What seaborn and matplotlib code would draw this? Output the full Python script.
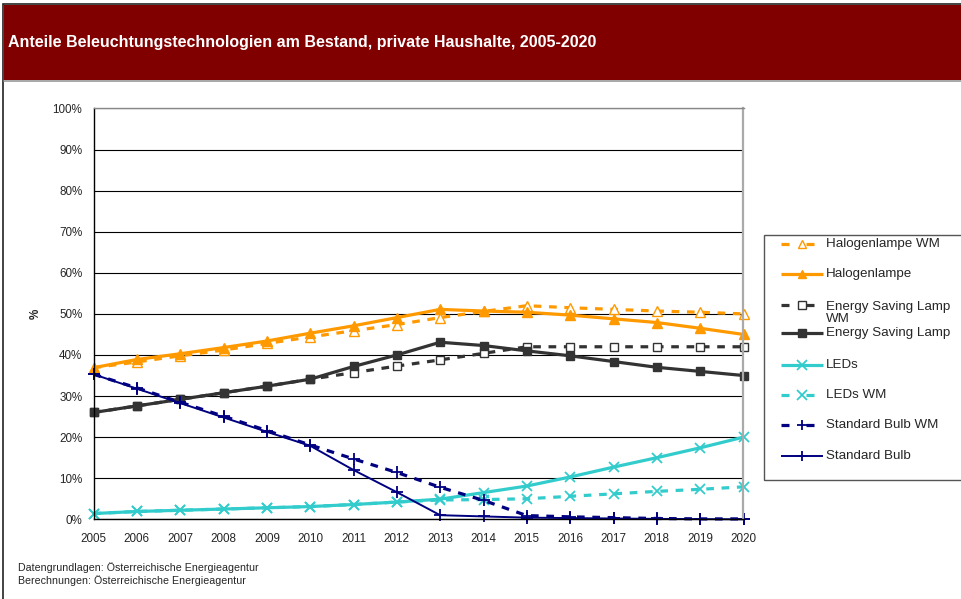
import numpy as np
import pandas as pd
import matplotlib
matplotlib.use("Agg")
import matplotlib.pyplot as plt
from matplotlib.lines import Line2D
from matplotlib.patches import Rectangle
import seaborn as sns

# ---- data (share of lighting technologies in stock, %) ----
years = list(range(2005, 2021))

halogen_wm = [36.9, 38.3, 39.8, 41.2, 42.8, 44.4, 45.9, 47.4, 49.1, 50.6, 52.0, 51.5, 51.1, 50.7, 50.4, 50.0]
halogen = [36.9, 38.9, 40.3, 41.8, 43.4, 45.3, 47.1, 49.1, 51.1, 50.7, 50.4, 49.7, 48.8, 47.9, 46.5, 45.0]
esl_wm = [26.0, 27.6, 29.2, 30.8, 32.4, 34.1, 35.7, 37.3, 38.8, 40.4, 42.0, 42.0, 42.0, 42.0, 42.0, 42.0]
esl = [26.0, 27.6, 29.2, 30.8, 32.4, 34.1, 37.2, 40.0, 43.1, 42.3, 41.0, 39.8, 38.4, 37.0, 36.0, 35.0]
leds = [1.4, 1.9, 2.2, 2.5, 2.8, 3.1, 3.6, 4.2, 4.9, 6.5, 8.1, 10.3, 12.7, 15.0, 17.4, 20.0]
leds_wm = [1.4, 1.9, 2.2, 2.5, 2.8, 3.1, 3.6, 4.2, 4.7, 4.8, 5.0, 5.6, 6.2, 6.8, 7.3, 7.9]
std_wm = [35.3, 32.0, 28.5, 25.1, 21.6, 18.1, 14.7, 11.4, 7.8, 4.6, 0.9, 0.6, 0.4, 0.2, 0.1, 0.1]
std = [35.3, 31.8, 28.3, 24.8, 21.3, 17.9, 12.0, 6.6, 1.0, 0.7, 0.4, 0.3, 0.2, 0.1, 0.05, 0.0]

y_ticks = list(range(0, 101, 10))
y_tick_labels = [f"{v}%" for v in y_ticks]

title = "Anteile Beleuchtungstechnologien am Bestand, private Haushalte, 2005-2020"
footer = ["Datengrundlagen: Österreichische Energieagentur",
          "Berechnungen: Österreichische Energieagentur"]

ORANGE = "#FF9900"
DARK = "#333333"
TURQ = "#33CCCC"
NAVY = "#000080"

# label, values, colour, linewidth, dashed, marker, markersize, marker face
series = [
    ("Halogenlampe WM", halogen_wm, ORANGE, 2.3, True, "^", 6.5, "white"),
    ("Halogenlampe", halogen, ORANGE, 2.3, False, "^", 6.5, ORANGE),
    ("Energy Saving Lamp\nWM", esl_wm, DARK, 2.3, True, "s", 5.5, "white"),
    ("Energy Saving Lamp", esl, DARK, 2.3, False, "s", 5.5, DARK),
    ("LEDs", leds, TURQ, 2.3, False, "x", 7.5, TURQ),
    ("LEDs WM", leds_wm, TURQ, 2.3, True, "x", 7.5, TURQ),
    ("Standard Bulb WM", std_wm, NAVY, 2.3, True, "+", 8, NAVY),
    ("Standard Bulb", std, NAVY, 1.4, False, "+", 8, NAVY),
]
DASHES = (2.4, 2.4)

sns.set_style("white")
plt.rcParams["font.family"] = ["Liberation Sans", "DejaVu Sans"]

W, H = 962, 599
fig = plt.figure(figsize=(W / 100, H / 100), dpi=100)


def fx(px):
    return px / W


def fy(py):
    return 1 - py / H


# outer frame and header band
fig.patches.append(Rectangle((fx(3), fy(H + 5)), 1.2, fy(4) - fy(H + 5), transform=fig.transFigure,
                             facecolor="none", edgecolor="#222222", lw=1.2, zorder=0))
fig.patches.append(Rectangle((fx(4), fy(80)), 1.0, fy(5) - fy(80), transform=fig.transFigure,
                             facecolor="#800000", edgecolor="none", zorder=1))
fig.lines.append(Line2D([fx(4), 1], [fy(80.5), fy(80.5)], transform=fig.transFigure,
                        color="#9a9a9a", lw=1.2))
fig.text(fx(8), fy(42), title, color="white", fontsize=11.5, fontweight="bold",
         va="center", ha="left")

ax = fig.add_axes([fx(93.5), fy(519.3), fx(743.5) - fx(93.5), fy(108.5) - fy(519.3)])

for label, vals, color, lw, dashed, marker, ms, mfc in series:
    sns.lineplot(x=years, y=vals, ax=ax, color=color, lw=lw, marker=marker, markersize=ms,
                 markerfacecolor=mfc, markeredgecolor=color,
                 markeredgewidth=1.3 if marker in ("x", "+") else 1.0,
                 legend=False, errorbar=None, clip_on=False)
    line = ax.lines[-1]
    if dashed:
        line.set_dashes(DASHES)
        line.set_dash_capstyle("butt")

ax.set_xlim(2005, 2020)
ax.set_ylim(0, 100)
ax.set_xticks(years)
ax.set_xticklabels([str(y) for y in years], fontsize=8.4)
ax.set_yticks(y_ticks)
ax.set_yticklabels(y_tick_labels, fontsize=8.4)
ax.yaxis.grid(True, color="black", lw=0.8)
ax.set_axisbelow(True)
ax.tick_params(axis="y", direction="out", length=5, width=0.9, color="black", pad=3)
ax.tick_params(axis="x", direction="out", length=5, width=0.9, color="black", pad=5)
ax.set_xlabel("")
ax.set_ylabel("%", fontsize=8.4, fontweight="bold")
ax.yaxis.set_label_coords((42 - 93.5) / 650, 0.5)
for side in ("left", "bottom"):
    ax.spines[side].set_color("black")
    ax.spines[side].set_linewidth(1.0)
ax.spines["top"].set_color("#888888")
ax.spines["top"].set_linewidth(1.0)
ax.spines["right"].set_color("#aaaaaa")
ax.spines["right"].set_linewidth(1.6)

# legend box drawn on the figure
fig.patches.append(Rectangle((fx(764.5), fy(480)), 1.0, fy(235) - fy(480), transform=fig.transFigure,
                             facecolor="white", edgecolor="#555555", lw=1.0, zorder=2))
rows = [244, 274, 305, 333, 365, 395, 425, 456]
for (label, vals, color, lw, dashed, marker, ms, mfc), ry in zip(series, rows):
    y = fy(ry)
    if dashed:
        for x0, x1 in ((781, 789), (806, 814)):
            fig.lines.append(Line2D([fx(x0), fx(x1)], [y, y], transform=fig.transFigure,
                                    color=color, lw=lw, solid_capstyle="butt", zorder=3))
    else:
        fig.lines.append(Line2D([fx(781), fx(823)], [y, y], transform=fig.transFigure,
                                color=color, lw=lw, solid_capstyle="butt", zorder=3))
    fig.lines.append(Line2D([fx(802)], [y], transform=fig.transFigure, color=color, lw=0,
                            marker=marker, markersize=ms * 0.95, markerfacecolor=mfc,
                            markeredgecolor=color,
                            markeredgewidth=1.3 if marker in ("x", "+") else 1.0, zorder=4))
    if "\n" in label:
        fig.text(fx(826), fy(ry - 4), label, fontsize=9.6, va="top", ha="left",
                 linespacing=1.05, zorder=5)
    else:
        fig.text(fx(826), y, label, fontsize=9.6, va="center", ha="left", zorder=5)

fig.text(fx(18), fy(568), footer[0], fontsize=7.7, va="center", ha="left")
fig.text(fx(18), fy(581), footer[1], fontsize=7.7, va="center", ha="left")

fig.savefig("out.png", dpi=100)
